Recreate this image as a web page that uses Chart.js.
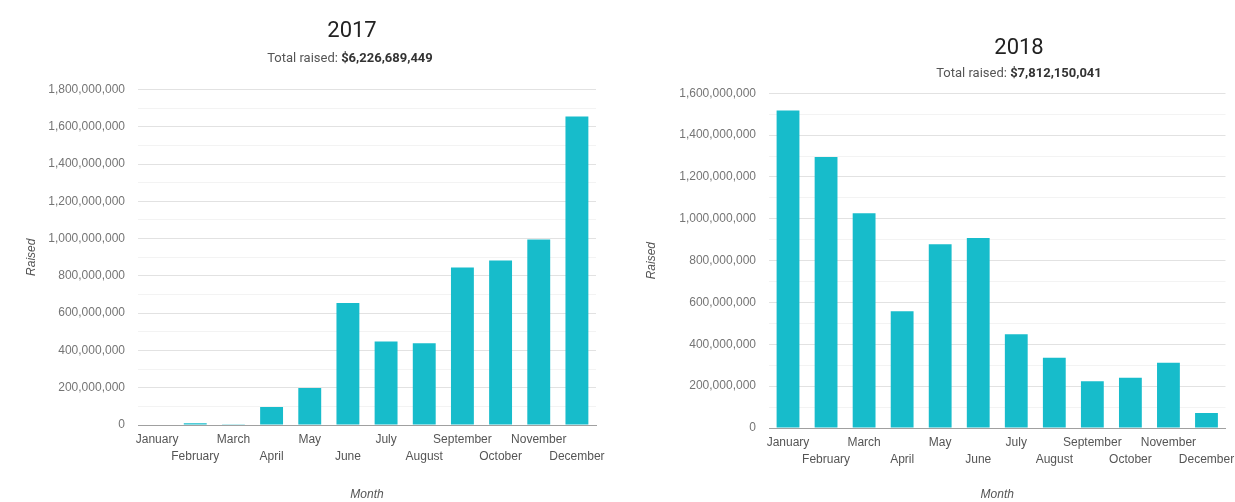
<!DOCTYPE html>
<html><head><meta charset="utf-8">
<script src="https://cdn.jsdelivr.net/npm/chart.js@4.4.1/dist/chart.umd.min.js"></script>
<style>
html,body{margin:0;padding:0;background:#fff;width:1235px;height:502px;overflow:hidden;}
.wrap{position:absolute;top:0;height:502px;}
.t{position:absolute;transform:translateX(-50%);white-space:nowrap;font-family:Roboto,"Liberation Sans",Arial,sans-serif;line-height:1;}
.title{font-size:22px;color:#222;}
.sub{font-size:13px;color:#555;}
.sub b{color:#333;font-weight:700;}
</style></head><body>
<div class="wrap" style="left:0;width:615px"><canvas id="c1" width="615" height="502"></canvas></div>
<div class="wrap" style="left:615px;width:620px"><canvas id="c2" width="620" height="502"></canvas></div>
<div class="t title" style="left:352px;top:19px">2017</div>
<div class="t sub" style="left:350px;top:51px">Total raised: <b>$6,226,689,449</b></div>
<div class="t title" style="left:1019px;top:36px">2018</div>
<div class="t sub" style="left:1019px;top:66px">Total raised: <b>$7,812,150,041</b></div>
<script>
const months = ['January','February','March','April','May','June','July','August','September','October','November','December'];
const raised2017 = [2500000, 9000000, 4000000, 96000000, 198000000, 654000000, 448000000, 439000000, 845000000, 882000000, 995000000, 1655000000];
const raised2018 = [1518000000, 1295000000, 1026000000, 558000000, 878000000, 908000000, 448000000, 336000000, 224000000, 240000000, 312000000, 72000000];
const yMax2017 = 1800000000;
const yMax2018 = 1600000000;
const majorStep = 200000000;
const minorStep = 100000000;

const FONT = '"Liberation Sans", Arial, sans-serif';

function makeChart(id, values, yMax, plotLeft, plotTop, xAxisHeight, rightPad, yTitlePad) {
  return new Chart(document.getElementById(id), {
    type: 'bar',
    data: {
      labels: months,
      datasets: [{ data: values, backgroundColor: '#17bccb', borderWidth: 0,
        barPercentage: 0.6, categoryPercentage: 1 }]
    },
    options: {
      responsive: false, animation: false,
      layout: { padding: { left: 0, top: plotTop, right: rightPad, bottom: 0 } },
      plugins: { legend: { display: false }, tooltip: { enabled: false } },
      scales: {
        x: {
          offset: true,
          grid: { display: false, drawTicks: false },
          border: { display: true, color: '#a0a0a0', width: 1 },
          ticks: {
            autoSkip: false, maxRotation: 0, minRotation: 0, padding: 7,
            color: '#555', font: { family: FONT, size: 12, lineHeight: 1.35 },
            callback: function (v, i) { return i % 2 === 0 ? months[i] : ['', months[i]]; }
          },
          title: { display: true, text: 'Month', color: '#555',
            font: { family: FONT, size: 12, style: 'italic' }, padding: { top: 0, bottom: 0 } },
          afterFit: function (s) { s.height = xAxisHeight; s.paddingLeft = 0; s.paddingRight = 0; }
        },
        y: {
          min: 0, max: yMax,
          grid: { drawTicks: false,
            color: function (c) { return (c.tick && c.tick.value % majorStep === 0) ? '#e2e2e2' : '#f3f3f3'; } },
          border: { display: false },
          ticks: {
            stepSize: minorStep, autoSkip: false, padding: 13, color: '#757575',
            font: { family: FONT, size: 12 },
            callback: function (v) { return v % majorStep === 0 ? v.toLocaleString('en-US') : ''; }
          },
          title: { display: true, text: 'Raised', color: '#555',
            font: { family: FONT, size: 12, style: 'italic' }, padding: { top: yTitlePad, bottom: 0 } },
          afterFit: function (s) { s.width = plotLeft; }
        }
      }
    }
  });
}

makeChart('c1', raised2017, yMax2017, 138, 89.5, 77, 19, 24);
makeChart('c2', raised2018, yMax2018, 154, 93.3, 74, 9.5, 29);
</script>
</body></html>
